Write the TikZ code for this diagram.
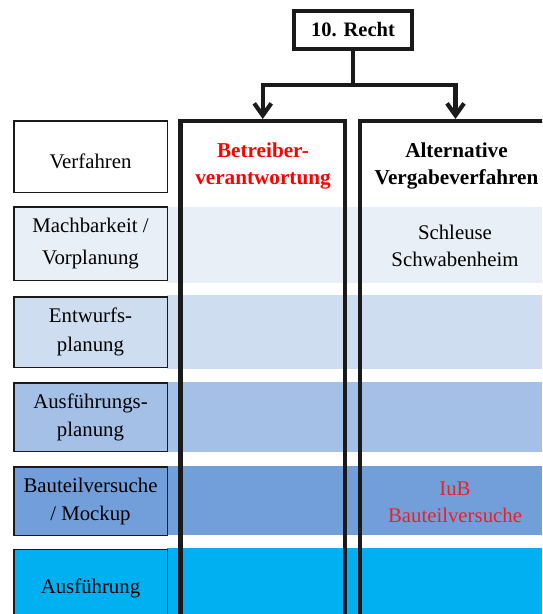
\documentclass[tikz,border=0pt]{standalone}
\usepackage{fontspec}
\setmainfont{Liberation Serif}
\usetikzlibrary{arrows.meta}
\definecolor{bandA}{HTML}{E9EFF7}
\definecolor{bandB}{HTML}{CFDDF0}
\definecolor{bandC}{HTML}{A4C0E6}
\definecolor{bandD}{HTML}{729FDA}
\definecolor{bandE}{HTML}{00B0F0}
\definecolor{txtred}{HTML}{FF0000}
\definecolor{iubred}{HTML}{E8202A}
\definecolor{frame}{HTML}{1A1A1A}
\begin{document}
\begin{tikzpicture}[x=1pt,y=-1pt,
  phase/.style={draw=frame, line width=1.5pt, minimum width=153.5pt, inner sep=0pt,
    align=center, font=\fontsize{20.8}{28}\selectfont},
  colbox/.style={draw=frame, line width=4.2pt, minimum height=620pt, anchor=north, inner sep=0pt},
  head/.style={align=center, font=\bfseries\fontsize{21.2}{26.5}\selectfont},
  cell/.style={align=center, font=\fontsize{20.8}{27}\selectfont},
  conn/.style={draw=frame, line width=4.2pt},
  arr/.style={conn, -{Straight Barb[length=12pt,width=17pt]}}]
\useasboundingbox (0,0) rectangle (542,614);
\clip (0,0) rectangle (542,614);
% bands
\fill[bandA] (167,207) rectangle (542,283);
\fill[bandB] (167,295) rectangle (542,369);
\fill[bandC] (167,382) rectangle (542,452);
\fill[bandD] (167,466) rectangle (542,535);
\fill[bandE] (167,548) rectangle (542,614);
% phase boxes
\node[phase, fill=white, minimum height=71.5pt] (verf) at (90.5,156.5) {\rule{0pt}{24pt}Verfahren};
\node[phase, fill=bandA, minimum height=73.5pt] (mach) at (90.5,243.5) {Machbarkeit /\\[4pt]Vorplanung};
\node[phase, fill=bandB, minimum height=70.5pt] (entw) at (90.5,332) {Entwurfs-\\[1.5pt]planung};
\node[phase, fill=bandC, minimum height=68.5pt] (ausp) at (90.5,417) {Ausführungs-\\planung};
\node[phase, fill=bandD, minimum height=68.5pt] (baut) at (90.5,501) {Bauteilversuche\\/ Mockup};
\node[phase, fill=bandE, minimum height=77pt] (ausf) at (90.5,588) {Ausführung};
% columns
\node[colbox, minimum width=164.5pt] (col1) at (262.75,119) {};
\node[colbox, minimum width=191.6pt] (col2) at (455.5,119) {};
% headers
\node[head, text=txtred] (h1) at (263,166) {Betreiber-\\verantwortung};
\node[head] (h2) at (456.5,166) {Alternative\\Vergabeverfahren};
% cells
\node[cell] (c1) at (455,246) {Schleuse\\Schwabenheim};
\node[cell, text=iubred] (c2) at (455,502) {IuB\\Bauteilversuche};
% top box
\node[draw=frame, line width=4pt, minimum width=118pt, minimum height=38pt, inner sep=0pt,
  font=\bfseries\fontsize{20.5}{24}\selectfont] (recht) at (353,30) {10. Recht};
\draw[conn] (recht.south) -- ++(0,34) coordinate (j);
\draw[arr] (j) -| (col1.north);
\draw[arr] (j) -| (col2.north);
\end{tikzpicture}
\end{document}
